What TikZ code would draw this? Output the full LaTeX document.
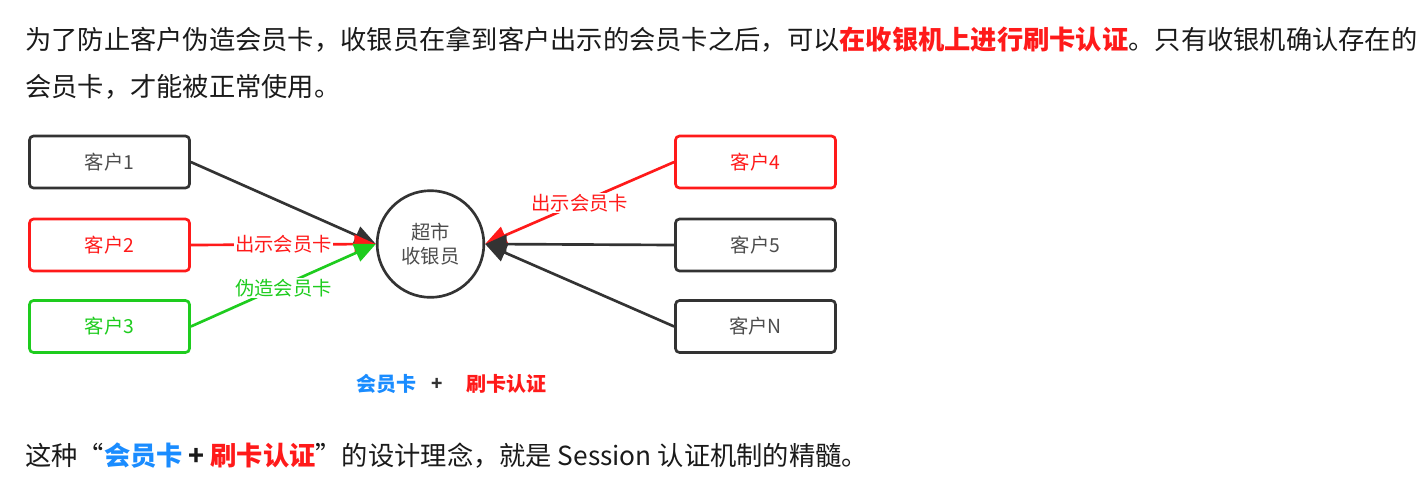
\documentclass[tikz,border=0pt]{standalone}
\usepackage{fontspec}
\setmainfont{Noto Sans CJK SC}
\usepackage{xcolor}
\usepackage{tikz}
\usetikzlibrary{arrows.meta}
\definecolor{shenhui}{HTML}{333333}
\definecolor{zihui}{HTML}{4D4D4D}
\definecolor{hongse}{HTML}{FF1A1A}
\definecolor{lvse}{HTML}{1ECC1E}
\definecolor{lanse}{HTML}{1A8CFF}
\definecolor{zhengwen}{HTML}{1A1A1A}

\begin{document}
\begin{tikzpicture}[x=0.75pt, y=-0.75pt, >={Triangle[length=16pt,width=14pt]},
  every node/.style={inner sep=0pt},
  kehu/.style={draw=#1, text=#1, rectangle, rounded corners=3pt, line width=2pt, fill=white, minimum width=120pt, minimum height=39pt, font=\fontsize{14.5}{16}\selectfont},
  kehu/.default=shenhui,
  xian/.style={->, #1, line width=2pt},
  xian/.default=shenhui,
  biaoqian/.style={midway, fill=white, text=#1, inner sep=1pt, font=\fontsize{14.5}{16}\selectfont},
  duanluo/.style={anchor=west, text=zhengwen, font=\fontsize{19.7}{24}\selectfont}]
\fill[white] (0,0) rectangle (1426,501);
\useasboundingbox (0,0) rectangle (1426,501);

% paragraph above
\node[duanluo] (hang1) at (25,40) {为了防止客户伪造会员卡，收银员在拿到客户出示的会员卡之后，可以\textcolor{hongse}{\bfseries 在收银机上进行刷卡认证}。只有收银机确认存在的};
\node[duanluo] (hang2) at (25,87) {会员卡，才能被正常使用。};

% customers
\node[kehu, text=zihui] (k1) at (109.5,162) {客户1};
\node[kehu=hongse] (k2) at (109.5,245) {客户2};
\node[kehu=lvse] (k3) at (109.5,326.5) {客户3};
\node[kehu=hongse] (k4) at (755.5,162) {客户4};
\node[kehu, text=zihui] (k5) at (755.5,245) {客户5};
\node[kehu, text=zihui] (kn) at (755.5,326.5) {客户N};

% cashier
\node[draw=shenhui, circle, line width=2pt, minimum size=80pt, text=zihui, align=center, font=\fontsize{14.5}{18}\selectfont] (syy) at (430.5,244) {超市\\收银员};

\draw[xian] (k1.east) -- (syy.west);
\draw[xian=hongse] (k2.east) -- (syy.west) node[biaoqian=hongse] {出示会员卡};
\draw[xian=lvse] (k3.east) -- (syy.west) node[biaoqian=lvse, yshift=-2pt] {伪造会员卡};
\draw[xian=hongse] (k4.west) -- (syy.east) node[biaoqian=hongse] {出示会员卡};
\draw[xian] (k5.west) -- (syy.east);
\draw[xian] (kn.west) -- (syy.east);

% card + check
\node[text=lanse, font=\fontsize{15}{16}\selectfont\bfseries] (hyk) at (386,384) {会员卡};
\node[text=shenhui, font=\fontsize{14}{16}\selectfont\bfseries] (jia) at (437,384) {+};
\node[text=hongse, font=\fontsize{15}{16}\selectfont\bfseries] (skrz) at (506,384) {刷卡认证};

% paragraph below
\node[duanluo] (hang3) at (25,456) {这种“\textcolor{lanse}{\bfseries 会员卡} \textbf{+} \textcolor{hongse}{\bfseries 刷卡认证}”的设计理念，就是 Session 认证机制的精髓。};
\end{tikzpicture}
\end{document}
